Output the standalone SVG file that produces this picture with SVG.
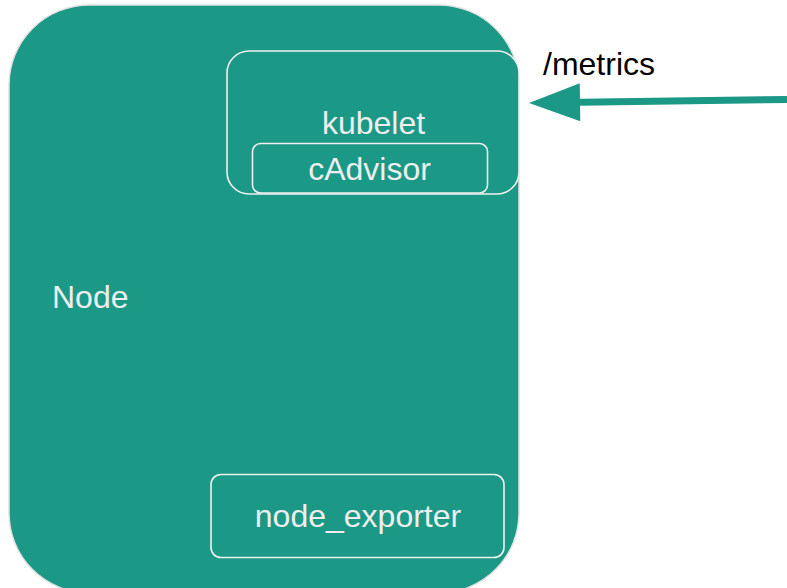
<svg xmlns="http://www.w3.org/2000/svg" width="787" height="588" viewBox="0 0 787 588">
  <style>
    .lbl { font-family: "Liberation Sans", Arial, sans-serif; font-size: 32px; fill: #eeeeee; }
    .box { fill: #1b9886; stroke: #f0f0f0; stroke-width: 1.6; }
  </style>
  <defs>
    <!-- arrowhead starts where the shaft stops -->
    <marker id="head" markerUnits="userSpaceOnUse" markerWidth="54" markerHeight="40" refX="1" refY="19" orient="auto">
      <path d="M1,0 L52,19 L1,38 Z" fill="#1b9886"/>
    </marker>
  </defs>
  <rect width="787" height="588" fill="#ffffff"/>

  <!-- host node container -->
  <g id="node">
    <rect x="9" y="5" width="510" height="588" rx="80" ry="80" fill="#1b9886" stroke="#e2e2e2" stroke-width="1.5"/>
    <text class="lbl" x="52" y="308">Node</text>
  </g>

  <!-- kubelet with embedded cAdvisor -->
  <g id="kubelet">
    <rect class="box" x="227" y="51" width="292" height="143" rx="22" ry="22"/>
    <text class="lbl" x="373.5" y="134" text-anchor="middle">kubelet</text>
  </g>
  <g id="cadvisor">
    <rect class="box" x="252.5" y="143.5" width="235" height="49.5" rx="8" ry="8"/>
    <text class="lbl" x="369.5" y="180" text-anchor="middle">cAdvisor</text>
  </g>

  <!-- node exporter -->
  <g id="node_exporter">
    <rect class="box" x="211" y="474.5" width="293" height="83" rx="10" ry="10"/>
    <text class="lbl" x="358" y="527" text-anchor="middle">node_exporter</text>
  </g>

  <!-- scrape connector -->
  <g id="connectors">
    <line x1="787" y1="99.5" x2="580" y2="102.3" stroke="#1b9886" stroke-width="7" marker-end="url(#head)"/>
    <text x="543" y="75" font-family="'Liberation Sans', Arial, sans-serif" font-size="32" fill="#000000">/metrics</text>
  </g>
</svg>
